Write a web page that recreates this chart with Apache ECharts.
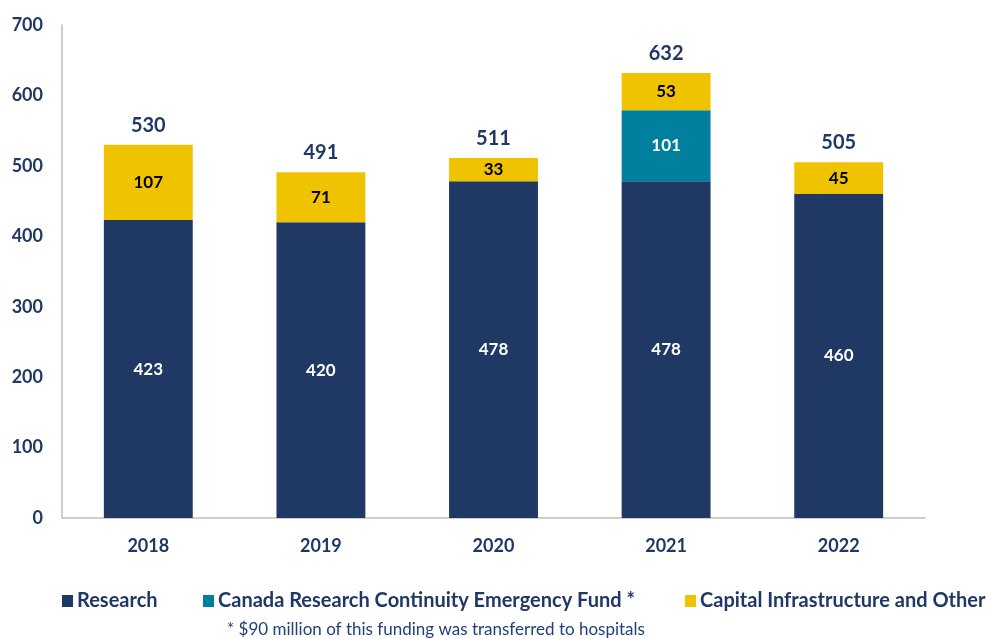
<!DOCTYPE html>
<html>
<head>
<meta charset="utf-8">
<script src="https://cdn.jsdelivr.net/npm/echarts@6/dist/echarts.min.js"></script>
<style>html,body{margin:0;padding:0;background:#fff;}#c{width:995px;height:639px;}</style>
</head>
<body>
<div id="c"></div>
<script>
const categories = ['2018', '2019', '2020', '2021', '2022'];
const research = [423, 420, 478, 478, 460];
const emergencyFund = [0, 0, 0, 101, 0];
const capital = [107, 71, 33, 53, 45];
const totals = [530, 491, 511, 632, 505];
const yTicks = [0, 100, 200, 300, 400, 500, 600, 700];

const NAVY = '#203864';
const TEAL = '#00809E';
const GOLD = '#F0C300';
const FONT = 'Lato';

const chart = echarts.init(document.getElementById('c'));
const legendText = { color: NAVY, fontFamily: FONT, fontWeight: 'bold', fontSize: 20, padding: [0, 0, 0, -1] };
const legBase = { top: 586, itemWidth: 11, itemHeight: 12, itemGap: 0, icon: 'rect', textStyle: legendText };
chart.setOption({
  animation: false,
  textStyle: { fontFamily: FONT },
  grid: { left: 62, right: 70, top: 25, bottom: 121 },
  legend: [
    Object.assign({ data: ['Research'], left: 57 }, legBase),
    Object.assign({ data: ['Canada Research Continuity Emergency Fund *'], left: 198 }, legBase),
    Object.assign({ data: ['Capital Infrastructure and Other'], left: 680 }, legBase)
  ],
  graphic: [{
    type: 'text', left: 227, top: 621,
    style: { text: '* $90 million of this funding was transferred to hospitals', fill: '#1F3F7F', font: '17px ' + FONT }
  }],
  xAxis: {
    type: 'category', data: categories,
    axisLine: { lineStyle: { color: '#BFBFBF', width: 1.5 } },
    axisTick: { show: false },
    axisLabel: { color: NAVY, fontWeight: 'bold', fontSize: 18, margin: 19 }
  },
  yAxis: {
    type: 'value', min: yTicks[0], max: yTicks[yTicks.length - 1], interval: 100,
    axisLine: { show: true, lineStyle: { color: '#BFBFBF', width: 1.5 } },
    axisTick: { show: false },
    splitLine: { show: false },
    axisLabel: { color: NAVY, fontWeight: 'bold', fontSize: 18, margin: 19 }
  },
  series: [
    {
      name: 'Research', type: 'bar', stack: 't', data: research, barWidth: '51.5%',
      itemStyle: { color: NAVY },
      label: { show: true, position: 'inside', color: '#fff', fontWeight: 'bold', fontSize: 17 }
    },
    {
      name: 'Canada Research Continuity Emergency Fund *', type: 'bar', stack: 't', data: emergencyFund,
      itemStyle: { color: TEAL },
      label: { show: true, position: 'inside', color: '#fff', fontWeight: 'bold', fontSize: 17,
        formatter: p => p.value ? p.value : '' }
    },
    {
      name: 'Capital Infrastructure and Other', type: 'bar', stack: 't', data: capital,
      itemStyle: { color: GOLD },
      label: { show: true, position: 'inside', color: '#000', fontWeight: 'bold', fontSize: 17 }
    },
    {
      name: 'Total', type: 'line', data: totals, symbol: 'circle', symbolSize: 1, showSymbol: true,
      itemStyle: { color: 'rgba(0,0,0,0)' },
      lineStyle: { opacity: 0 }, silent: true,
      label: { show: true, position: 'top', distance: 9, color: NAVY, fontWeight: 'bold', fontSize: 20 }
    }
  ]
});
</script>
</body>
</html>
